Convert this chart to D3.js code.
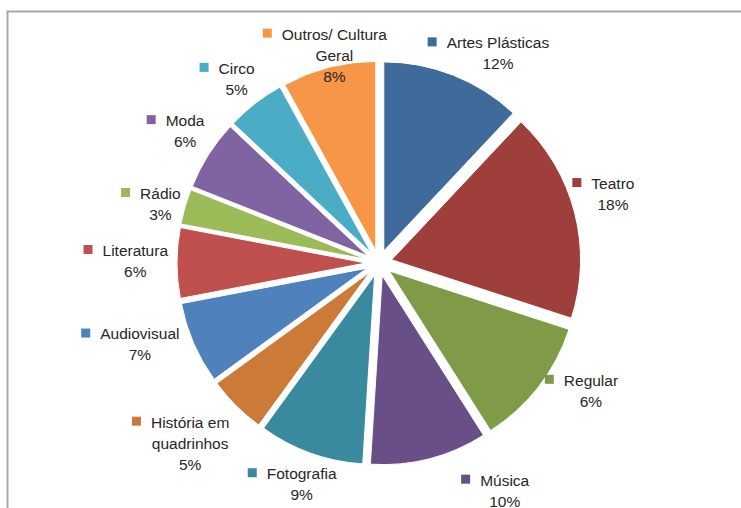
<!DOCTYPE html>
<html>
<head>
<meta charset="utf-8">
<script src="https://cdn.jsdelivr.net/npm/d3@7"></script>
<style>
  html, body { margin: 0; padding: 0; background: #ffffff; }
  svg { display: block; }
  text { font-family: "Liberation Sans", Arial, sans-serif; }
</style>
</head>
<body>
<svg id="chart" width="741" height="508"></svg>
<script>
// ---- data ----
const categories = ["Artes Plásticas", "Teatro", "Regular", "Música", "Fotografia",
  "História em quadrinhos", "Audiovisual", "Literatura", "Rádio", "Moda", "Circo",
  "Outros/ Cultura Geral"];
const values = [12, 18, 11, 10, 9, 5, 7, 6, 3, 6, 5, 8];
const percentLabels = ["12%", "18%", "6%", "10%", "9%", "5%", "7%", "6%", "3%", "6%", "5%", "8%"];
const colors = ["#3F6A9C", "#9E3F3C", "#7F9B48", "#684F88", "#3A8A9F", "#CC7A37",
  "#4F81BD", "#C0504D", "#9BBB59", "#8064A2", "#4BACC6", "#F79646"];

// ---- layout (label placement tweaks, in px, applied after the polar placement) ----
const labelNudge = [[9, 7], [-11, -11], [6, -15], [55, 2], [0, 2], [-14, 8],
  [-9, -11], [1, -2], [4, 6], [0, -7], [-5, 0], [14, 28]];

const W = 741, H = 508;
const cx = 379, cy = 263, R = 189, explode = 13;
const labelR = 212;
const fontSize = 15.5, lineH = 21, markerSize = 9, markerGap = 10, wrapWidth = 125;

const svg = d3.select("#chart");

// frame
svg.append("path")
  .attr("d", `M7.5,${H} L7.5,11.5 L${W},11.5`)
  .attr("fill", "none")
  .attr("stroke", "#a8a8a8")
  .attr("stroke-width", 2);

const data = categories.map((c, i) => ({ name: c, value: values[i], pct: percentLabels[i], color: colors[i], nudge: labelNudge[i] }));

const pie = d3.pie().value(d => d.value).sort(null).startAngle(0).endAngle(2 * Math.PI);
const arcs = pie(data);
const arc = d3.arc().innerRadius(0).outerRadius(R);

const g = svg.append("g").attr("transform", `translate(${cx},${cy})`);

g.selectAll("path.slice")
  .data(arcs)
  .join("path")
  .attr("class", "slice")
  .attr("d", arc)
  .attr("fill", d => d.data.color)
  .attr("stroke", "#ffffff")
  .attr("stroke-width", 1)
  .attr("transform", d => {
    const a = (d.startAngle + d.endAngle) / 2;
    return `translate(${Math.sin(a) * explode},${-Math.cos(a) * explode})`;
  });

// measuring helper
const measure = svg.append("text").attr("font-size", fontSize).attr("visibility", "hidden");
function textW(s) { measure.text(s); return measure.node().getComputedTextLength(); }
function wrap(s) {
  const words = s.split(" ");
  const lines = [];
  let cur = "";
  words.forEach(w => {
    const test = cur ? cur + " " + w : w;
    if (cur && textW(test) > wrapWidth) { lines.push(cur); cur = w; }
    else cur = test;
  });
  if (cur) lines.push(cur);
  return lines;
}

const labels = svg.append("g");
arcs.forEach(d => {
  const a = (d.startAngle + d.endAngle) / 2;
  const lines = wrap(d.data.name).concat([d.data.pct]);
  const textCol = d3.max(lines, l => textW(l));
  const bw = markerSize + markerGap + textCol;
  const bh = lines.length * lineH;
  const px = cx + Math.sin(a) * labelR;
  const py = cy - Math.cos(a) * labelR;
  const bcx = px + Math.sin(a) * bw / 2 + d.data.nudge[0];
  const bcy = py - Math.cos(a) * bh / 2 + d.data.nudge[1];
  const left = bcx - bw / 2;
  const top = bcy - bh / 2;
  const colCx = left + markerSize + markerGap + textCol / 2;
  const lg = labels.append("g");
  lg.append("rect")
    .attr("x", left)
    .attr("y", top + lineH / 2 - markerSize / 2 - 1)
    .attr("width", markerSize)
    .attr("height", markerSize)
    .attr("fill", d.data.color);
  lines.forEach((l, i) => {
    lg.append("text")
      .attr("x", colCx)
      .attr("y", top + lineH / 2 + i * lineH)
      .attr("dy", "0.35em")
      .attr("text-anchor", "middle")
      .attr("font-size", fontSize)
      .attr("fill", "#262626")
      .text(l);
  });
});
measure.remove();
</script>
</body>
</html>
